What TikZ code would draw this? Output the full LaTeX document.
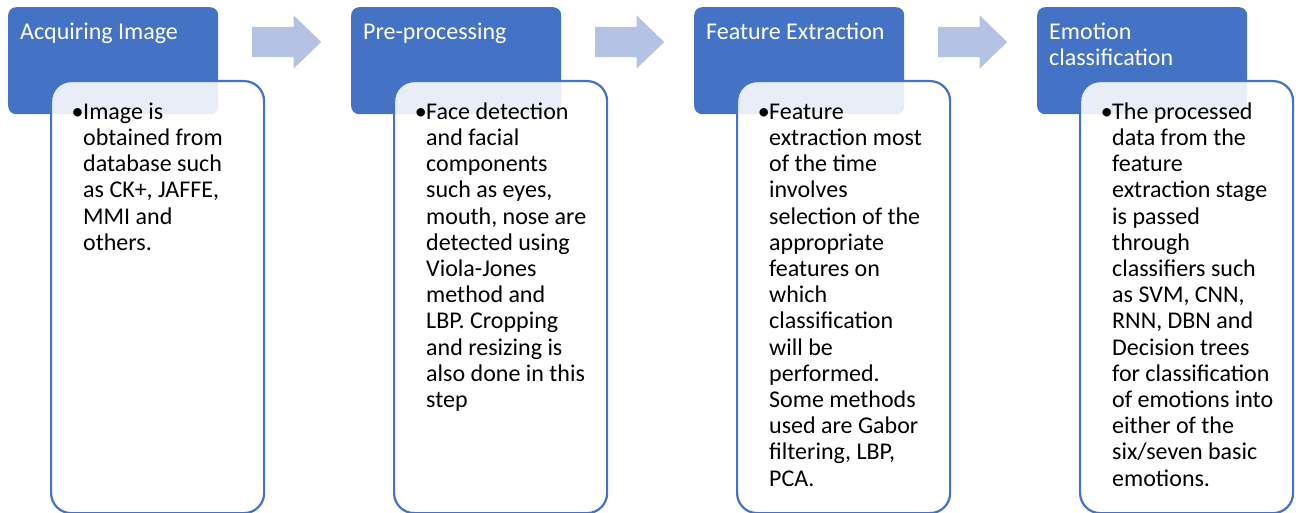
\documentclass[tikz,border=0pt]{standalone}
\usepackage{fontspec}
\setmainfont{Carlito}
\usetikzlibrary{shapes.arrows,calc}
\definecolor{accent}{HTML}{4472C4}
\definecolor{arrowfill}{HTML}{B4C3E4}
\tikzset{
  header/.style={fill=accent, draw=none, rounded corners=8pt,
    minimum width=210pt, minimum height=107pt, anchor=north west, inner sep=0pt},
  detail/.style={fill=white, fill opacity=0.88, draw=accent, line width=2.2pt,
    rounded corners=20pt, minimum width=213pt, minimum height=432pt,
    anchor=north west, inner sep=0pt},
  headtext/.style={text=white, anchor=north west, align=left, inner sep=0pt,
    font=\fontsize{24}{26.2}\selectfont},
  bodytext/.style={text=black, anchor=north west, align=left, inner sep=0pt,
    font=\fontsize{24}{26.2}\selectfont},
  flow/.style={single arrow, fill=arrowfill, draw=none, inner sep=0pt,
    text height=15pt, text depth=15pt, text width=0pt,
    minimum height=69pt, minimum width=53pt, single arrow head extend=11.5pt,
    single arrow tip angle=88, anchor=west}
}
\newcommand{\bul}{\llap{\textbullet\hspace{-0.5pt}}}
\begin{document}
\begin{tikzpicture}[x=1pt,y=1pt]
\useasboundingbox (0,0) rectangle (1300,-513);

% stage headers
\node[header] (h1) at (8,-7) {};
\node[header] (h2) at (351,-7) {};
\node[header] (h3) at (694,-7) {};
\node[header] (h4) at (1037,-7) {};

% detail panels, laid over the headers
\node[detail] (d1) at (50,-80) {};
\node[detail] (d2) at (393,-80) {};
\node[detail] (d3) at (736,-80) {};
\node[detail] (d4) at (1079,-80) {};

% block arrows between stages
\node[flow] (a1) at (252,-42) {};
\node[flow] (a2) at (595,-42) {};
\node[flow] (a3) at (938,-42) {};

% header titles (first baseline 32pt below the header top)
\node[headtext] (t1) at ($(h1.north west)+(12,-13.66)$) {\strut Acquiring Image};
\node[headtext] (t2) at ($(h2.north west)+(12,-13.66)$) {\strut Pre-processing};
\node[headtext] (t3) at ($(h3.north west)+(12,-13.66)$) {\strut Feature Extraction};
\node[headtext] (t4) at ($(h4.north west)+(12,-13.66)$) {\strut Emotion\\classification};

% panel texts (first baseline 39pt below the panel top)
\node[bodytext] (b1) at ($(d1.north west)+(33,-20.66)$) {\strut\bul Image is\\obtained from\\database such\\as CK+, JAFFE,\\MMI and\\others.};
\node[bodytext] (b2) at ($(d2.north west)+(33,-20.66)$) {\strut\bul Face detection\\and facial\\components\\such as eyes,\\mouth, nose are\\detected using\\Viola-Jones\\method and\\LBP. Cropping\\and resizing is\\also done in this\\step};
\node[bodytext] (b3) at ($(d3.north west)+(33,-20.66)$) {\strut\bul Feature\\extraction most\\of the time\\involves\\selection of the\\appropriate\\features on\\which\\classification\\will be\\performed.\\Some methods\\used are Gabor\\filtering, LBP,\\PCA.};
\node[bodytext] (b4) at ($(d4.north west)+(33,-20.66)$) {\strut\bul The processed\\data from the\\feature\\extraction stage\\is passed\\through\\classifiers such\\as SVM, CNN,\\RNN, DBN and\\Decision trees\\for classification\\of emotions into\\either of the\\six/seven basic\\emotions.};
\end{tikzpicture}
\end{document}
